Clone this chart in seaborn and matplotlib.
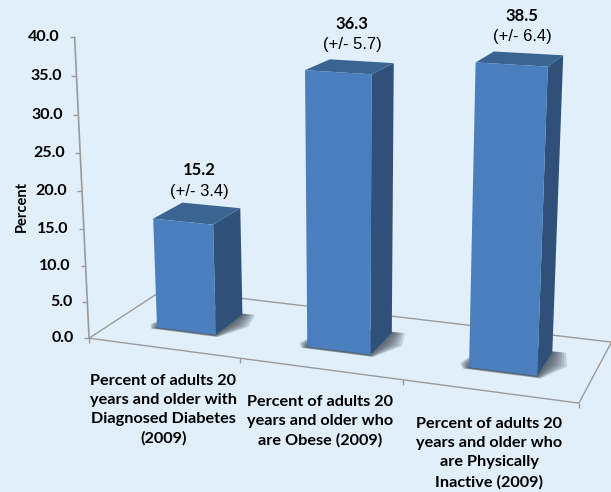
import matplotlib
matplotlib.use("Agg")
import numpy as np
import matplotlib.pyplot as plt
import seaborn as sns
from matplotlib.patches import Polygon
from matplotlib.transforms import Affine2D, Transform

categories = [
    "Percent of adults 20\nyears and older with\nDiagnosed Diabetes\n(2009)",
    "Percent of adults 20\nyears and older who\nare Obese (2009)",
    "Percent of adults 20\nyears and older who\nare Physically\nInactive (2009)",
]
percent = [15.2, 36.3, 38.5]
margin = ["(+/- 3.4)", "(+/- 5.7)", "(+/- 6.4)"]
y_ticks = [0, 5, 10, 15, 20, 25, 30, 35, 40]

BG = "#E1EFFB"
FRONT = "#4A7EBC"
SIDE = "#2F5179"
TOP = "#3A6592"
LINE = "#9A9A9A"
TEXT = "#000000"

# camera for the fake 3D look: (category, percent, depth) -> image pixels
CAMERA = np.array([
    [140.307, -0.453166, 36.179, 186.238],
    [6.90481, -7.48593, -7.62516, 331.097],
    [-0.0358367, -0.00128772, 0.0404319, 1.0],
])
FLOOR_FRONT, FLOOR_BACK = -0.78, 1.72
X_LEFT, X_RIGHT = -0.5, 2.5


def project(x, y, z):
    h = CAMERA @ np.array([x, y, z, 1.0])
    return h[0] / h[2], h[1] / h[2]


class Perspective(Transform):
    input_dims = 2
    output_dims = 2
    is_affine = False
    has_inverse = False

    def __init__(self, z=0.0):
        super().__init__()
        self.z = z

    def transform_non_affine(self, values):
        return np.array([project(x, y, self.z) for x, y in values])


sns.set_theme(style="white")
plt.rcParams["font.family"] = ["Lato", "DejaVu Sans"]

fig = plt.figure(figsize=(6.11, 4.92), dpi=100, facecolor=BG)
ax = fig.add_axes([0, 0, 1, 1])
ax.axis("off")

# image pixels (y down) to display
to_px = Affine2D().scale(1, -1).translate(0, 492)

sns.barplot(x=categories, y=percent, width=0.4, color=FRONT, saturation=1, ax=ax, zorder=5)


def line(p, q, lw=1.0):
    ax.plot([p[0], q[0]], [p[1], q[1]], color=LINE, lw=lw, transform=to_px,
            clip_on=False, zorder=1, solid_capstyle="butt")


def poly(corners, color, zorder, alpha=1.0):
    ax.add_patch(Polygon(corners, closed=True, facecolor=color, edgecolor="none", alpha=alpha,
                         transform=to_px, clip_on=False, zorder=zorder))


# floor
fl = project(X_LEFT, 0, FLOOR_FRONT)
fr = project(X_RIGHT, 0, FLOOR_FRONT)
bl = project(X_LEFT, 0, FLOOR_BACK)
br = project(X_RIGHT, 0, FLOOR_BACK)
for p, q in [(fl, fr), (fl, bl), (bl, br), (fr, br)]:
    line(p, q)
for x in [X_LEFT, 0.5, 1.5, X_RIGHT]:
    p = project(x, 0, FLOOR_FRONT)
    line(p, (p[0], p[1] + 5))

# value axis
line(fl, project(X_LEFT, y_ticks[-1], FLOOR_FRONT), lw=1.2)
for v in y_ticks:
    p = project(X_LEFT, v, FLOOR_FRONT)
    line(p, (p[0] - 5, p[1]))
    ax.text(p[0] - 15, p[1], f"{v:.1f}", ha="right", va="center", fontsize=11.5,
            fontweight="bold", color=TEXT, transform=to_px)

ax.text(22, 207, "Percent", rotation=90, ha="center", va="center", fontsize=10.5,
        fontweight="bold", color=TEXT, transform=to_px)

bars = list(ax.patches)
for i, bar in enumerate(bars):
    x0 = bar.get_x()
    x1 = x0 + bar.get_width()
    h = bar.get_height()

    # the seaborn bar is the front face, side and top follow from it
    bar.set_transform(Perspective(0.0) + to_px)
    bar.set_clip_on(False)
    bar.set_edgecolor("none")

    # soft shadow on the floor
    for grow in np.linspace(0.13, 0.0, 8):
        poly([project(x0 - grow * 0.5, 0, 0.1),
              project(x0 - grow * 0.2, 0, -0.03 - grow * 0.4),
              project(x1 + grow * 0.2, 0, -0.03 - grow * 0.4),
              project(x1 + grow, 0, 0.5),
              project(x1 + grow * 0.6, 0, 1 + grow * 0.4),
              project(x0, 0, 1)], "#333C46", 2, alpha=0.17)

    poly([project(x1, 0, 0), project(x1, h, 0), project(x1, h, 1), project(x1, 0, 1)], SIDE, 4)
    poly([project(x0, h, 0), project(x1, h, 0), project(x1, h, 1), project(x0, h, 1)], TOP, 4)

    cx, cy = project(i, h, 0.5)
    ax.text(cx + 2, cy - 43, f"{h:.1f}", ha="center", va="center", fontsize=12,
            fontweight="bold", color=TEXT, transform=to_px)
    ax.text(cx + 2, cy - 22, margin[i], ha="center", va="center", fontsize=12,
            family="Liberation Sans", color=TEXT, transform=to_px)

    lx, ly = project(i, 0, FLOOR_FRONT)
    ax.text(lx, ly + 26, categories[i], ha="center", va="top", fontsize=11.7, linespacing=1.46,
            fontweight="bold", color=TEXT, transform=to_px)

fig.savefig("out.png", dpi=100, facecolor=BG)
